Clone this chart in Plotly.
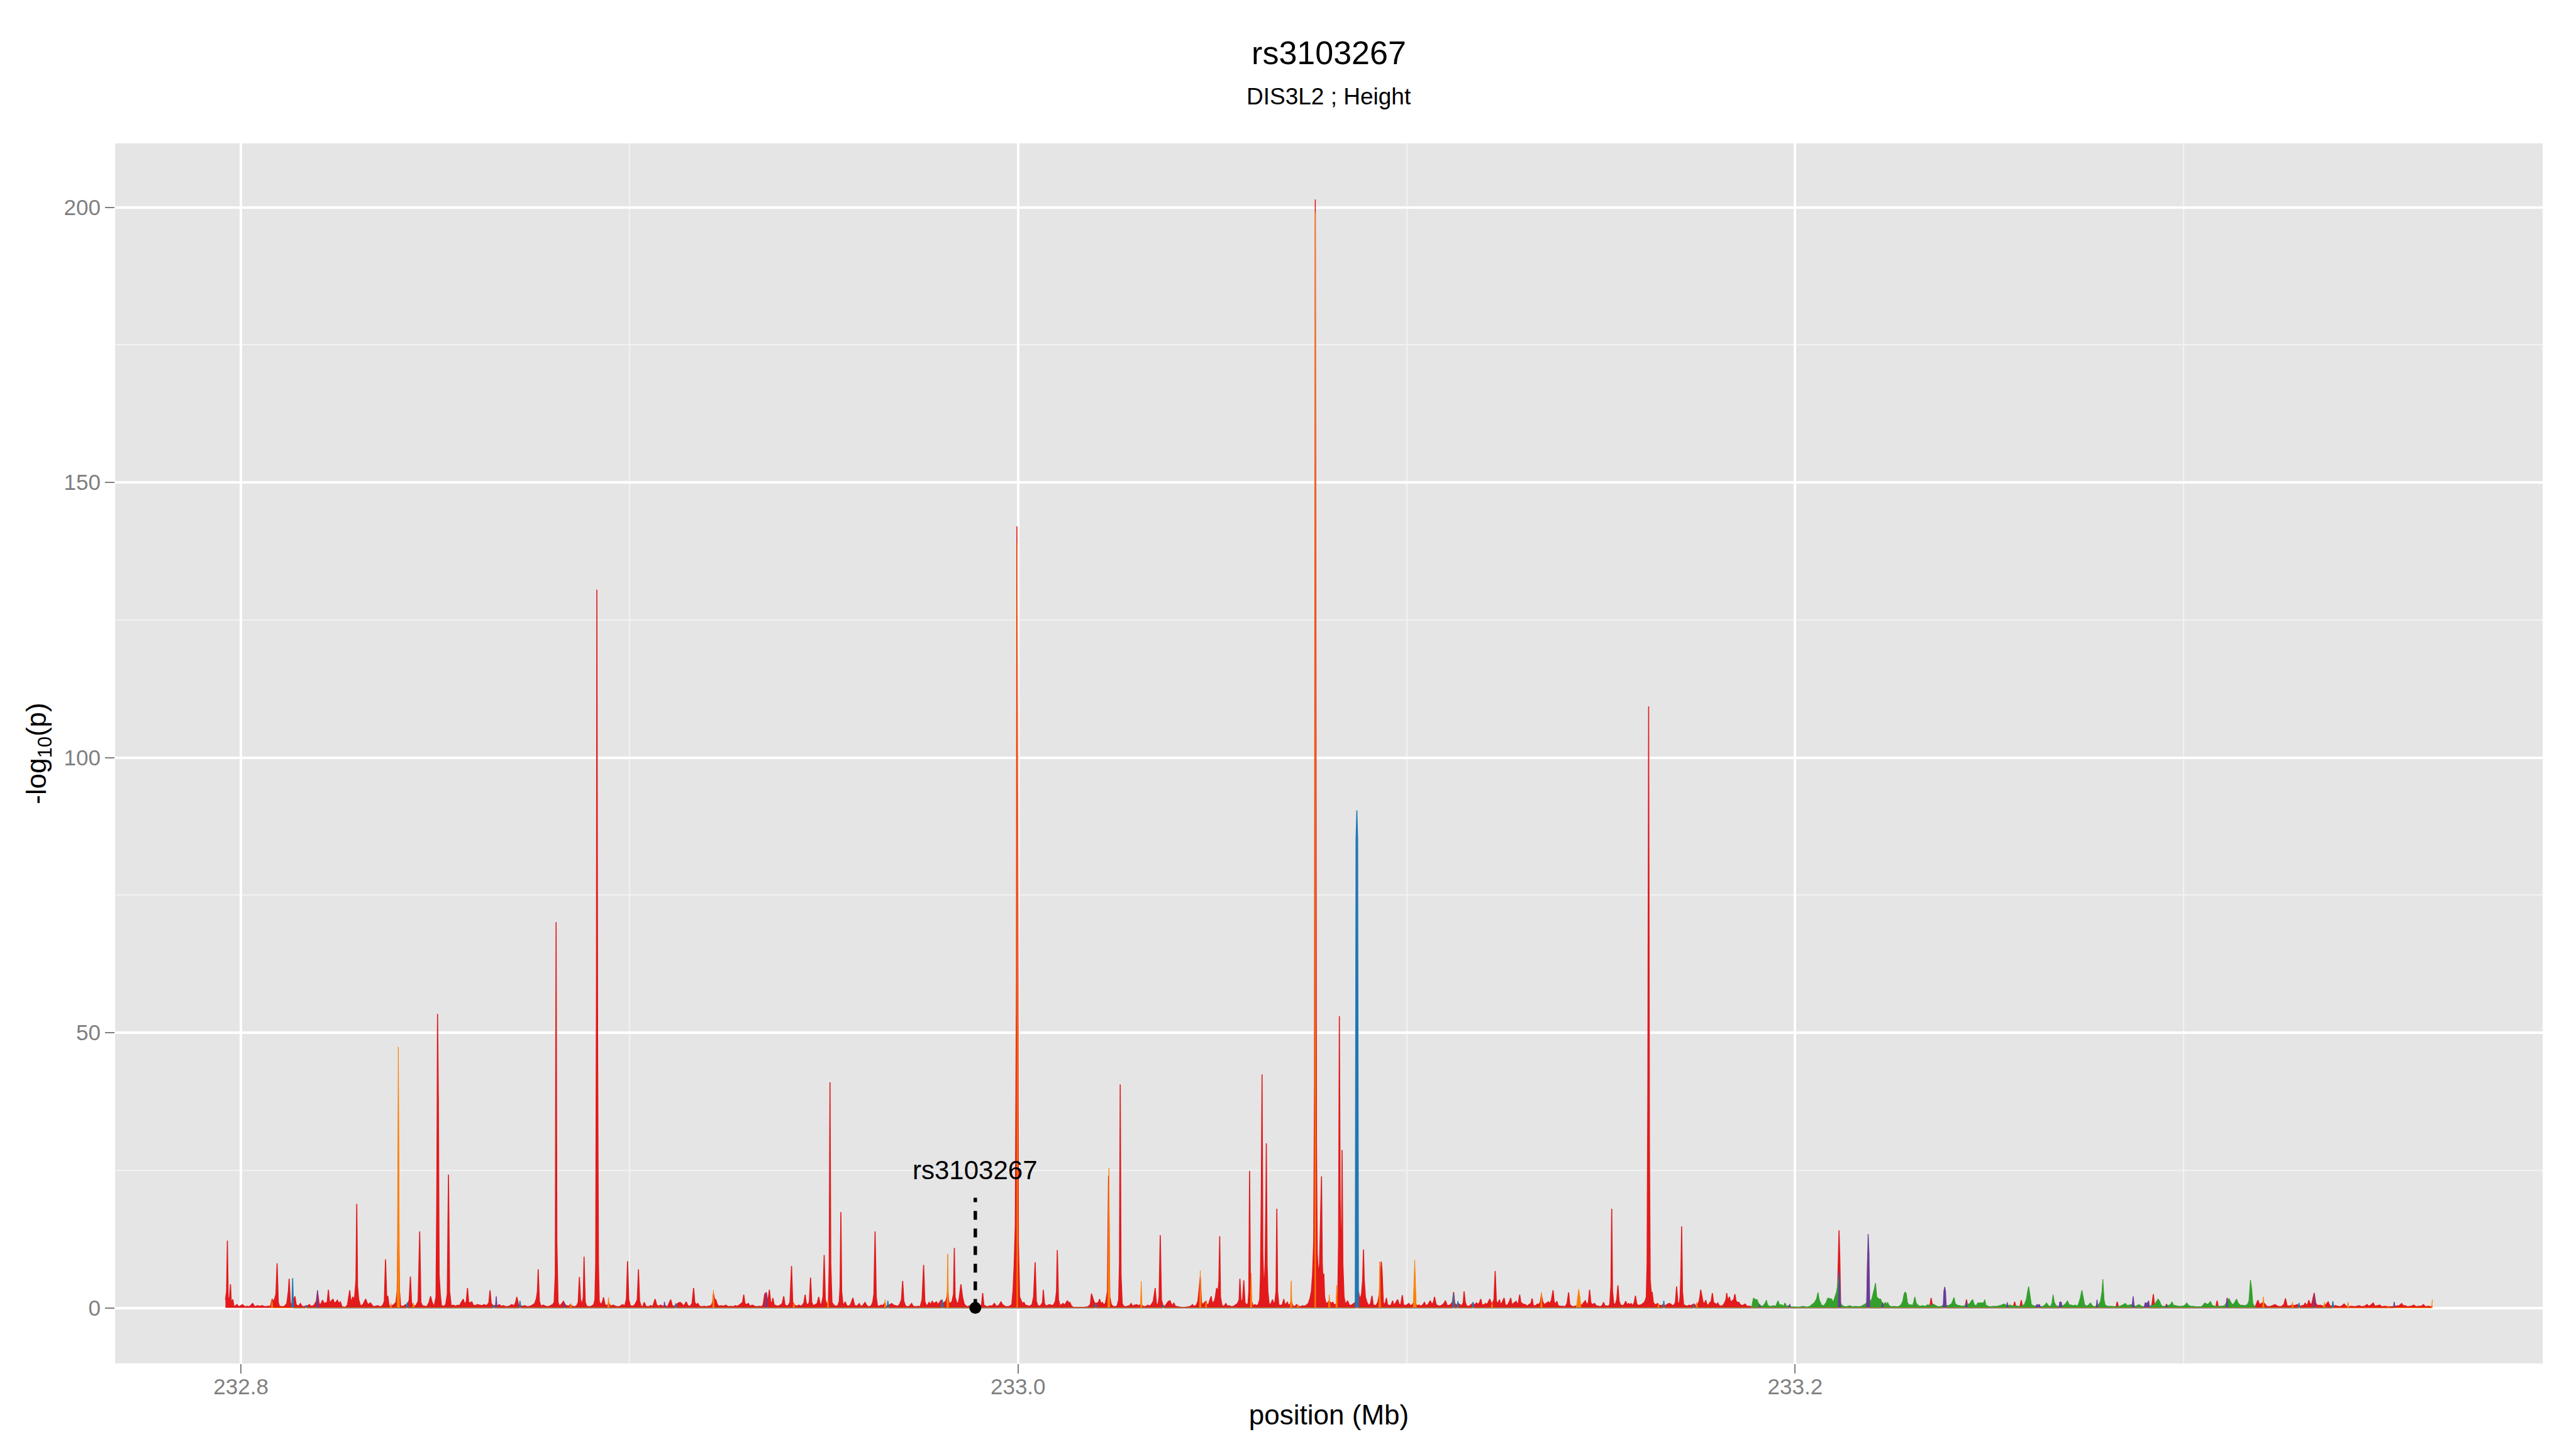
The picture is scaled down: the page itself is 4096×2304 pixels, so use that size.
import plotly.graph_objects as go

# ---------------- data (position in Mb, -log10 p) ----------------
red_pos = [
232.7960,232.7963,232.7965,232.7967,232.7970,232.7973,232.7975,232.7979,232.7982,232.7990,
232.7994,232.8000,232.8004,232.8010,232.8016,232.8022,232.8030,232.8036,232.8042,232.8048,
232.8055,232.8062,232.8068,232.8076,232.8080,232.8085,232.8090,232.8093,232.8096,232.8099,
232.8106,232.8112,232.8118,232.8122,232.8124,232.8127,232.8131,232.8135,232.8139,232.8142,
232.8148,232.8153,232.8158,232.8164,232.8170,232.8176,232.8180,232.8187,232.8194,232.8197,
232.8201,232.8205,232.8210,232.8214,232.8218,232.8222,232.8225,232.8228,232.8232,232.8237,
232.8240,232.8244,232.8248,232.8252,232.8256,232.8260,232.8268,232.8274,232.8280,232.8283,
232.8288,232.8292,232.8296,232.8298,232.8300,232.8303,232.8308,232.8314,232.8318,232.8321,
232.8324,232.8328,232.8333,232.8337,232.8341,232.8346,232.8352,232.8358,232.8362,232.8366,
232.8369,232.8372,232.8375,232.8378,232.8381,232.8386,232.8392,232.8399,232.8402,232.8405,
232.8408,232.8411,232.8418,232.8424,232.8428,232.8433,232.8436,232.8439,232.8443,232.8450,
232.8456,232.8460,232.8463,232.8467,232.8472,232.8478,232.8484,232.8488,232.8492,232.8497,
232.8502,232.8504,232.8506,232.8508,232.8510,232.8513,232.8516,232.8522,232.8527,232.8531,
232.8534,232.8537,232.8541,232.8547,232.8552,232.8557,232.8562,232.8567,232.8572,232.8576,
232.8580,232.8583,232.8586,232.8590,232.8594,232.8598,232.8603,232.8608,232.8614,232.8620,
232.8626,232.8632,232.8638,232.8641,232.8644,232.8650,232.8655,232.8660,232.8665,232.8670,
232.8676,232.8682,232.8690,232.8697,232.8703,232.8707,232.8710,232.8714,232.8719,232.8725,
232.8731,232.8737,232.8744,232.8750,232.8756,232.8760,232.8763,232.8765,232.8768,232.8772,
232.8778,232.8784,232.8790,232.8796,232.8802,232.8806,232.8809,232.8811,232.8813,232.8816,
232.8820,232.8826,232.8830,232.8834,232.8838,232.8843,232.8848,232.8853,232.8858,232.8864,
232.8868,232.8871,232.8874,232.8878,232.8881,232.8883,232.8886,232.8890,232.8896,232.8902,
232.8908,232.8911,232.8913,232.8915,232.8916,232.8918,232.8920,232.8922,232.8926,232.8930,
232.8933,232.8937,232.8942,232.8947,232.8952,232.8958,232.8964,232.8970,232.8976,232.8982,
232.8988,232.8992,232.8995,232.8998,232.9002,232.9008,232.9013,232.9017,232.9020,232.9023,
232.9026,232.9030,232.9034,232.9038,232.9042,232.9048,232.9054,232.9060,232.9066,232.9070,
232.9075,232.9080,232.9086,232.9092,232.9098,232.9106,232.9110,232.9116,232.9120,232.9126,
232.9130,232.9134,232.9138,232.9142,232.9146,232.9150,232.9156,232.9161,232.9165,232.9168,
232.9172,232.9176,232.9180,232.9186,232.9192,232.9198,232.9204,232.9210,232.9214,232.9216,
232.9219,232.9222,232.9226,232.9231,232.9236,232.9242,232.9248,232.9254,232.9260,232.9266,
232.9272,232.9278,232.9284,232.9288,232.9291,232.9294,232.9297,232.9301,232.9306,232.9310,
232.9316,232.9322,232.9328,232.9334,232.9340,232.9344,232.9348,232.9352,232.9356,232.9360,
232.9363,232.9366,232.9369,232.9372,232.9377,232.9382,232.9388,232.9393,232.9397,232.9400,
232.9405,232.9409,232.9413,232.9417,232.9420,232.9425,232.9430,232.9436,232.9441,232.9446,
232.9449,232.9452,232.9455,232.9460,232.9463,232.9466,232.9469,232.9473,232.9478,232.9483,
232.9487,232.9490,232.9494,232.9498,232.9501,232.9504,232.9508,232.9512,232.9514,232.9516,
232.9518,232.9521,232.9526,232.9531,232.9536,232.9540,232.9542,232.9544,232.9546,232.9549,
232.9552,232.9555,232.9559,232.9564,232.9569,232.9575,232.9579,232.9584,232.9588,232.9591,
232.9595,232.9600,232.9606,232.9611,232.9616,232.9622,232.9626,232.9629,232.9632,232.9635,
232.9638,232.9643,232.9648,232.9652,232.9656,232.9660,232.9665,232.9670,232.9675,232.9680,
232.9685,232.9690,232.9695,232.9700,232.9703,232.9706,232.9710,232.9715,232.9720,232.9726,
232.9730,232.9736,232.9742,232.9748,232.9753,232.9757,232.9760,232.9764,232.9768,232.9771,
232.9775,232.9779,232.9783,232.9787,232.9790,232.9794,232.9798,232.9802,232.9806,232.9810,
232.9814,232.9817,232.9819,232.9822,232.9826,232.9830,232.9834,232.9836,232.9838,232.9842,
232.9846,232.9849,232.9853,232.9857,232.9861,232.9865,232.9870,232.9876,232.9882,232.9886,
232.9890,232.9895,232.9900,232.9906,232.9909,232.9912,232.9917,232.9922,232.9928,232.9933,
232.9939,232.9944,232.9950,232.9956,232.9960,232.9966,232.9972,232.9978,232.9984,232.9987,
232.9990,232.9993,232.9996,232.9997,232.9999,233.0001,233.0004,233.0008,233.0011,233.0015,
233.0019,233.0024,233.0030,233.0036,233.0040,233.0044,233.0047,233.0051,233.0056,233.0060,
233.0063,233.0065,233.0068,233.0072,233.0077,233.0082,233.0087,233.0092,233.0096,233.0099,
233.0101,233.0104,233.0108,233.0112,233.0116,233.0120,233.0124,233.0127,233.0130,233.0133,
233.0137,233.0142,233.0150,233.0160,233.0170,233.0180,233.0186,233.0189,233.0192,233.0196,
233.0200,233.0204,233.0207,233.0210,233.0213,233.0217,233.0220,233.0225,233.0230,233.0233,
233.0236,233.0240,233.0244,233.0250,233.0255,233.0259,233.0261,233.0263,233.0265,233.0268,
233.0272,233.0277,233.0282,233.0287,233.0291,233.0295,233.0300,233.0305,233.0310,233.0315,
233.0320,233.0325,233.0330,233.0334,233.0338,233.0343,233.0348,233.0353,233.0356,233.0360,
233.0363,233.0366,233.0369,233.0373,233.0378,233.0383,233.0387,233.0391,233.0395,233.0398,
233.0401,233.0405,233.0412,233.0420,233.0430,233.0440,233.0446,233.0449,233.0452,233.0458,
233.0463,233.0466,233.0469,233.0472,233.0476,233.0480,233.0484,233.0487,233.0491,233.0494,
233.0497,233.0500,233.0505,233.0508,233.0511,233.0515,233.0517,233.0519,233.0521,233.0525,
233.0530,233.0535,233.0539,233.0544,233.0549,233.0555,233.0560,233.0565,233.0569,233.0571,
233.0574,233.0578,233.0581,233.0584,233.0588,233.0592,233.0594,233.0596,233.0598,233.0601,
233.0605,233.0610,233.0614,233.0618,233.0622,233.0624,233.0626,233.0628,233.0630,233.0632,
233.0634,233.0636,233.0638,233.0639,233.0641,233.0643,233.0646,233.0650,233.0655,233.0658,
233.0661,233.0664,233.0666,233.0668,233.0671,233.0675,233.0680,233.0684,233.0687,233.0691,
233.0693,233.0696,233.0700,233.0703,233.0707,233.0712,233.0717,233.0722,233.0727,233.0732,
233.0737,233.0742,233.0747,233.0751,233.0755,233.0758,233.0761,233.0763,233.0764,233.0765,
233.0766,233.0768,233.0770,233.0773,233.0776,233.0779,233.0781,233.0783,233.0785,233.0787,
233.0789,233.0792,233.0796,233.0800,233.0804,233.0808,233.0810,233.0813,233.0817,233.0820,
233.0823,233.0825,233.0827,233.0829,233.0831,233.0833,233.0834,233.0836,233.0839,233.0843,
233.0848,233.0852,233.0856,233.0860,233.0864,233.0868,233.0872,233.0876,233.0880,233.0884,
233.0887,233.0889,233.0891,233.0894,233.0898,233.0903,233.0907,233.0911,233.0914,233.0918,
233.0922,233.0926,233.0930,233.0933,233.0935,233.0937,233.0940,233.0944,233.0948,233.0951,
233.0955,233.0960,233.0964,233.0967,233.0971,233.0977,233.0981,233.0985,233.0989,233.0992,
233.0996,233.1000,233.1006,233.1010,233.1015,233.1020,233.1024,233.1028,233.1032,233.1037,
233.1042,233.1046,233.1050,233.1055,233.1061,233.1065,233.1069,233.1072,233.1076,233.1081,
233.1086,233.1091,233.1096,233.1100,233.1104,233.1108,233.1113,233.1118,233.1121,233.1124,
233.1128,233.1133,233.1138,233.1142,233.1146,233.1148,233.1151,233.1155,233.1161,233.1166,
233.1170,233.1174,233.1177,233.1180,233.1184,233.1188,233.1191,233.1194,233.1198,233.1203,
233.1206,233.1210,233.1214,233.1217,233.1221,233.1225,233.1228,233.1231,233.1235,233.1239,
233.1242,233.1246,233.1251,233.1254,233.1258,233.1262,233.1265,233.1268,233.1271,233.1275,
233.1279,233.1282,233.1285,233.1288,233.1291,233.1294,233.1298,233.1302,233.1306,233.1310,
233.1315,233.1320,233.1323,233.1326,233.1330,233.1334,233.1337,233.1340,233.1344,233.1347,
233.1350,233.1354,233.1358,233.1362,233.1365,233.1369,233.1373,233.1377,233.1380,233.1384,
233.1387,233.1390,233.1396,233.1402,233.1408,233.1413,233.1417,233.1420,233.1425,233.1429,
233.1434,233.1439,233.1443,233.1447,233.1452,233.1456,233.1460,233.1464,233.1468,233.1471,
233.1474,233.1478,233.1484,233.1488,233.1494,233.1499,233.1504,233.1507,233.1510,233.1515,
233.1519,233.1523,233.1526,233.1528,233.1530,233.1533,233.1537,233.1541,233.1544,233.1547,
233.1551,233.1556,233.1560,233.1564,233.1567,233.1571,233.1575,233.1578,233.1582,233.1586,
233.1589,233.1592,233.1596,233.1600,233.1605,233.1608,233.1612,233.1615,233.1617,233.1619,
233.1621,233.1623,233.1625,233.1627,233.1630,233.1632,233.1635,233.1639,233.1642,233.1646,
233.1650,233.1655,233.1660,233.1665,233.1670,233.1675,233.1680,233.1684,233.1688,233.1692,
233.1695,233.1698,233.1702,233.1704,233.1706,233.1708,233.1710,233.1713,233.1718,233.1722,
233.1727,233.1732,233.1736,233.1740,233.1744,233.1748,233.1752,233.1755,233.1757,233.1760,
233.1763,233.1767,233.1770,233.1773,233.1777,233.1781,233.1784,233.1787,233.1790,233.1794,
233.1798,233.1801,233.1805,233.1810,233.1815,233.1819,233.1822,233.1824,233.1827,233.1831,
233.1834,233.1838,233.1842,233.1845,233.1848,233.1852,233.1855,233.1859,233.1864,233.1871,
233.1876,233.1882,233.1890,233.1905,233.1909,233.1913,233.1930,233.1950,233.1970,233.1990,
233.2010,233.2030,233.2050,233.2070,233.2090,233.2105,233.2109,233.2111,233.2113,233.2115,
233.2117,233.2120,233.2140,233.2160,233.2180,233.2185,233.2187,233.2189,233.2192,233.2200,
233.2222,233.2225,233.2228,233.2250,233.2280,233.2310,233.2340,233.2347,233.2350,233.2353,
233.2358,233.2400,233.2430,233.2438,233.2441,233.2444,233.2460,233.2500,233.2540,233.2562,
233.2565,233.2568,233.2579,233.2582,233.2585,233.2620,233.2660,233.2700,233.2740,233.2780,
233.2826,233.2829,233.2832,233.2860,233.2900,233.2918,233.2922,233.2925,233.2940,233.2953,
233.2956,233.2959,233.3000,233.3040,233.3083,233.3086,233.3089,233.3109,233.3112,233.3115,
233.3150,233.3185,233.3191,233.3195,233.3200,233.3205,233.3210,233.3215,233.3225,233.3235,
233.3242,233.3250,233.3258,233.3262,233.3266,233.3272,233.3278,233.3285,233.3292,233.3300,
233.3305,233.3310,233.3313,233.3316,233.3320,233.3322,233.3326,233.3330,233.3333,233.3336,
233.3340,233.3345,233.3352,233.3358,233.3365,233.3372,233.3376,233.3382,233.3390,233.3396,
233.3402,233.3408,233.3413,233.3418,233.3425,233.3432,233.3440,233.3446,233.3452,233.3458,
233.3466,233.3472,233.3476,233.3480,233.3488,233.3492,233.3500,233.3505,233.3510,233.3518,
233.3525,233.3535,233.3545,233.3555,233.3561,233.3565,233.3570,233.3576,233.3585,233.3593,
233.3598,233.3605,233.3612,233.3617,233.3622,233.3630,233.3637,233.3640,
]
red_val = [
1.5,3.0,12.2,2.0,1.2,4.3,1.0,1.5,0.2,0.6,
0.2,0.5,0.6,0.2,0.3,0.2,0.8,0.2,0.4,0.3,
0.4,0.2,0.3,0.3,1.6,1.2,2.5,8.1,1.0,0.3,
0.2,0.3,0.8,3.0,5.3,1.0,0.5,1.3,2.1,0.6,
0.3,0.8,0.2,0.3,0.3,0.6,0.3,0.4,1.2,3.0,
0.8,0.6,1.4,0.8,0.9,1.0,3.3,0.9,1.2,1.6,
0.9,1.0,1.4,0.8,1.1,0.2,0.1,0.5,3.2,1.0,
2.0,1.5,5.0,18.9,4.0,1.5,0.3,0.6,1.2,1.6,
1.0,0.6,0.9,0.6,0.2,0.3,0.4,0.2,0.3,0.6,
1.2,8.8,2.0,2.1,0.4,0.3,0.5,1.0,3.0,17.2,
3.0,0.3,0.3,0.6,0.3,1.5,5.7,1.0,0.3,0.4,
1.2,13.9,1.0,0.4,0.3,0.2,1.0,2.1,1.0,0.2,
2.0,20.0,53.4,37.6,6.0,2.4,0.4,0.3,0.6,2.5,
24.2,3.0,0.4,0.5,0.3,0.5,0.4,1.0,1.6,0.6,
1.2,3.6,1.0,0.9,1.1,0.5,0.4,0.6,0.5,0.4,
0.6,0.4,0.9,3.2,0.8,0.3,0.5,0.4,0.6,0.3,
0.4,0.2,0.3,0.6,0.4,1.0,2.0,0.6,0.4,0.3,
0.4,0.2,0.3,0.5,0.8,1.6,3.0,7.0,1.2,0.3,
0.5,0.3,0.2,0.4,0.6,1.0,6.0,70.1,12.0,1.0,
0.3,0.8,1.2,0.6,0.4,0.3,0.6,0.3,0.2,0.4,
1.0,5.6,1.5,0.6,2.0,9.3,1.0,0.3,0.2,0.3,
0.6,1.5,8.0,60.0,130.5,45.0,8.0,1.2,0.6,1.0,
1.9,0.6,0.4,0.8,0.3,0.5,0.3,0.2,0.3,0.6,
0.4,1.6,8.5,1.5,0.4,0.3,0.5,1.0,1.5,7.0,
1.2,0.3,0.2,1.0,0.3,0.2,0.4,0.3,1.6,0.5,
0.3,0.5,0.3,0.4,0.2,1.5,0.4,0.3,0.6,0.9,
1.0,0.8,0.4,0.6,1.1,0.4,0.3,0.8,3.6,1.0,
0.6,0.8,0.3,0.2,0.3,0.2,0.3,0.4,1.0,2.6,
1.6,1.5,0.6,0.3,0.4,0.3,0.5,0.2,0.3,0.2,
0.4,0.3,0.6,0.8,1.0,2.4,0.8,0.6,0.8,0.3,
0.5,0.3,0.2,0.3,0.2,0.6,2.5,2.8,1.0,3.3,
1.2,0.6,1.8,0.6,0.4,0.3,0.5,0.8,2.1,0.6,
0.3,0.5,1.0,7.6,1.0,0.5,0.3,0.5,0.3,0.6,
1.0,2.4,0.8,0.5,1.2,5.5,1.0,0.4,0.6,0.8,
2.0,0.8,0.6,2.0,9.6,1.5,0.6,1.0,8.0,41.0,
8.0,1.0,0.5,0.3,0.4,1.2,4.0,17.4,3.0,0.8,
0.6,1.1,0.4,0.3,0.6,1.8,0.5,0.3,0.5,0.8,
0.3,0.4,1.0,0.4,0.2,0.4,1.0,2.5,13.9,2.0,
0.4,0.3,0.5,0.4,0.8,0.3,0.4,0.6,0.8,0.5,
0.4,0.3,0.6,1.5,4.9,1.2,0.4,0.2,0.3,0.8,
0.3,0.2,0.3,0.2,1.5,7.8,1.2,0.4,0.6,1.0,
0.6,1.2,0.8,1.0,1.1,0.6,1.0,1.4,0.8,1.0,
1.2,2.0,3.0,1.0,0.8,1.2,2.5,10.9,2.0,1.0,
0.8,2.0,4.3,2.0,0.8,0.4,0.2,0.4,0.3,0.6,
0.1,0.2,0.3,0.5,2.7,0.5,0.3,0.2,0.4,0.3,
0.8,0.3,0.4,1.1,0.6,0.3,0.2,0.3,0.6,3.0,
7.8,15.0,60.0,142.0,90.0,12.0,2.0,1.2,0.8,1.0,
0.5,0.4,0.3,0.6,2.0,8.3,1.2,0.4,0.3,0.6,
1.0,3.3,0.8,0.3,0.5,0.6,0.4,0.6,1.2,3.0,
10.5,1.5,0.4,0.6,0.8,0.5,1.0,1.3,0.9,1.0,
0.4,0.1,0.1,0.1,0.1,0.2,0.6,2.6,2.0,1.0,
0.8,0.9,1.0,1.6,0.8,1.0,0.6,0.8,3.0,24.0,
2.0,0.6,0.3,0.2,0.4,1.5,8.0,40.6,6.0,0.8,
0.3,0.2,0.3,0.4,0.8,0.3,0.5,0.6,0.4,0.6,
0.4,0.2,0.3,0.5,0.3,0.6,1.2,3.6,0.8,0.5,
2.0,13.2,1.5,0.4,0.3,0.8,1.2,1.3,0.6,0.5,
0.9,0.3,0.2,0.1,0.1,0.2,0.4,0.6,0.3,0.4,
1.2,3.0,5.5,1.0,0.6,1.0,1.2,0.4,0.8,1.5,
2.1,0.8,1.2,2.0,3.6,3.0,5.0,13.0,2.0,0.4,
0.3,0.8,0.3,0.4,0.2,0.3,0.6,0.8,1.5,5.3,
1.0,1.5,5.0,1.0,0.5,0.8,3.0,24.9,4.0,1.2,
0.4,0.6,0.4,0.6,1.5,6.0,20.0,42.4,10.0,5.0,
4.5,8.0,20.0,29.9,8.0,3.0,0.8,0.6,1.5,0.8,
1.0,3.0,18.0,3.0,0.6,0.4,0.6,1.6,0.6,0.8,
1.1,0.5,0.6,1.2,0.4,0.2,0.6,0.3,0.2,0.4,
0.3,0.5,0.8,1.6,3.0,6.0,12.0,40.0,120.0,201.4,
150.0,30.0,10.0,6.0,8.0,16.0,23.9,8.0,5.0,6.2,
2.0,1.0,0.8,1.2,1.0,0.8,1.1,0.6,0.6,0.8,
2.5,12.0,53.0,20.0,10.0,15.0,28.7,8.0,2.0,0.6,
1.3,0.6,0.4,0.6,0.8,1.0,2.0,3.0,1.5,2.5,
5.0,10.6,5.0,2.0,1.0,0.4,0.8,2.2,0.6,0.4,
0.5,1.0,2.5,6.0,8.4,6.5,1.0,0.5,1.8,0.6,
0.4,0.5,1.3,0.5,0.8,1.5,0.6,0.6,2.3,0.6,
0.4,0.5,0.8,0.4,0.6,1.2,0.6,0.4,0.5,0.3,
0.6,1.0,0.4,0.6,1.3,0.6,1.0,2.0,0.6,0.4,
0.3,0.5,0.8,1.3,0.5,0.4,0.6,1.0,2.9,0.8,
0.5,0.8,0.6,0.4,1.0,3.0,1.0,0.3,0.3,0.6,
0.8,0.6,0.7,0.9,0.6,1.0,1.6,0.6,0.5,0.8,
0.6,1.0,1.6,1.0,0.8,1.5,6.7,1.2,0.8,1.5,
0.6,1.0,1.8,0.6,0.4,0.8,1.2,1.8,0.6,0.8,
1.0,1.2,0.6,1.0,2.4,1.0,0.8,0.6,0.6,0.3,
0.6,0.8,1.7,0.5,0.3,0.6,0.7,0.6,1.0,2.4,
1.2,0.6,0.8,1.0,1.1,0.8,1.5,3.2,1.0,0.8,
1.2,0.4,0.3,0.3,0.2,0.8,2.8,0.6,0.3,0.2,
0.3,0.4,0.6,0.4,0.6,1.0,1.3,0.6,1.0,3.3,
1.0,0.6,0.8,0.4,0.3,0.2,0.5,1.0,0.4,0.3,
0.3,0.6,4.0,18.0,3.0,0.8,0.6,1.5,4.1,1.2,
0.5,0.4,0.6,1.2,0.6,0.8,0.6,0.8,0.4,1.0,
2.2,0.8,0.4,0.5,0.6,0.8,1.0,1.5,2.0,8.0,
40.0,109.3,30.0,5.0,2.5,2.9,1.0,0.6,0.6,0.8,
0.5,0.4,0.6,0.4,0.6,0.8,0.7,0.4,0.5,1.0,
3.9,1.0,0.8,2.0,6.0,14.8,3.0,0.6,0.4,0.3,
0.5,0.4,0.6,0.7,0.4,0.5,1.0,2.0,3.3,2.0,
1.0,0.8,1.4,0.6,0.5,1.0,1.2,2.7,1.0,0.8,
0.6,0.9,0.4,0.3,0.5,1.0,1.5,2.7,1.2,2.0,
1.0,1.3,1.5,2.5,1.2,1.0,1.0,0.6,0.4,0.7,
0.3,0.3,0.2,0.1,0.5,0.1,0.1,0.1,0.1,0.1,
0.1,0.1,0.1,0.1,0.2,0.3,2.0,8.0,14.1,9.0,
0.8,0.2,0.1,0.1,0.2,1.0,10.0,4.0,0.2,0.2,
0.2,0.9,0.2,0.1,0.1,0.1,0.1,0.4,1.8,0.5,
0.1,0.1,0.1,0.3,1.5,0.3,0.1,0.1,0.1,0.3,
1.1,0.2,0.3,1.4,0.2,0.1,0.1,0.1,0.1,0.1,
0.2,1.1,0.2,0.1,0.1,0.4,2.5,0.4,0.1,0.2,
0.7,0.2,0.1,0.1,0.2,1.3,0.2,0.3,1.8,0.3,
0.1,0.3,1.4,0.6,0.8,1.0,0.6,0.2,0.3,0.6,
0.3,0.2,0.6,1.7,0.4,0.3,0.5,0.4,0.6,0.3,
0.4,0.5,0.9,0.4,0.8,1.4,0.6,0.8,1.8,2.7,
0.8,0.4,0.5,0.3,0.5,1.1,0.4,0.3,0.4,0.3,
0.2,0.4,0.7,0.3,0.2,0.3,0.2,0.3,0.4,0.2,
0.3,0.6,0.3,0.4,0.9,0.3,0.4,0.5,0.2,0.3,
0.2,0.2,0.3,0.4,0.8,0.4,0.4,0.2,0.3,0.5,
0.2,0.3,0.3,0.6,0.2,0.3,0.2,0.3,
]

green_pos = [
233.1886,233.1889,233.1891,233.1893,233.1896,233.1899,233.1902,233.1906,233.1912,233.1918,
233.1923,233.1926,233.1929,233.1933,233.1938,233.1944,233.1950,233.1953,233.1956,233.1960,
233.1965,233.1970,233.1974,233.1978,233.1983,233.1990,233.2000,233.2010,233.2021,233.2030,
233.2038,233.2044,233.2050,233.2055,233.2059,233.2062,233.2068,233.2074,233.2080,233.2083,
233.2085,233.2089,233.2094,233.2098,233.2102,233.2105,233.2107,233.2110,233.2113,233.2116,
233.2119,233.2125,233.2132,233.2140,233.2148,233.2156,233.2163,233.2170,233.2178,233.2186,
233.2193,233.2197,233.2201,233.2204,233.2207,233.2210,233.2213,233.2216,233.2220,233.2224,
233.2228,233.2232,233.2235,233.2238,233.2242,233.2248,233.2255,233.2262,233.2268,233.2273,
233.2277,233.2280,233.2283,233.2286,233.2289,233.2293,233.2298,233.2302,233.2305,233.2308,
233.2312,233.2316,233.2321,233.2328,233.2335,233.2342,233.2348,233.2355,233.2362,233.2369,
233.2376,233.2383,233.2390,233.2397,233.2403,233.2406,233.2409,233.2412,233.2417,233.2424,
233.2430,233.2436,233.2450,233.2454,233.2457,233.2460,233.2465,233.2470,233.2475,233.2479,
233.2483,233.2486,233.2488,233.2491,233.2496,233.2500,233.2510,233.2520,233.2530,233.2538,
233.2545,233.2554,233.2562,233.2570,233.2574,233.2582,233.2590,233.2595,233.2598,233.2601,
233.2604,233.2608,233.2613,233.2620,233.2630,233.2638,233.2644,233.2647,233.2652,233.2657,
233.2661,233.2664,233.2667,233.2671,233.2674,233.2683,233.2692,233.2698,233.2701,233.2705,
233.2711,233.2716,233.2721,233.2726,233.2730,233.2734,233.2738,233.2741,233.2745,233.2750,
233.2755,233.2760,233.2765,233.2770,233.2778,233.2783,233.2786,233.2790,233.2792,233.2795,
233.2798,233.2805,233.2815,233.2825,233.2835,233.2842,233.2846,233.2850,233.2855,233.2860,
233.2864,233.2870,233.2876,233.2885,233.2892,233.2900,233.2910,233.2920,233.2927,233.2931,
233.2934,233.2938,233.2942,233.2946,233.2952,233.2960,233.2966,233.2970,233.2974,233.2980,
233.2987,233.2995,233.3002,233.3008,233.3012,233.3018,233.3025,233.3032,233.3039,233.3045,
233.3050,233.3053,233.3056,233.3060,233.3065,233.3069,233.3073,233.3080,233.3088,233.3098,
233.3105,233.3110,233.3114,233.3117,233.3120,233.3125,233.3130,233.3133,233.3136,233.3140,
233.3145,233.3151,233.3158,233.3164,233.3168,233.3170,233.3172,233.3175,233.3178,233.3182,
233.3186,
]
green_val = [
0.0,0.3,1.2,1.8,1.6,1.5,1.5,0.8,0.3,0.4,
0.9,1.4,0.6,0.3,0.3,0.4,0.3,0.8,1.3,0.5,
0.6,0.3,0.9,0.3,0.4,0.2,0.15,0.15,0.3,0.15,
0.3,0.6,1.0,1.6,2.8,1.5,0.5,0.4,1.0,1.6,
1.8,1.7,1.6,1.0,1.8,2.4,3.0,4.5,6.0,1.0,
0.6,0.3,0.2,0.4,0.2,0.3,0.2,0.3,0.6,1.0,
1.2,1.5,2.5,3.5,4.5,2.0,1.8,1.6,1.6,0.8,
0.6,1.0,0.6,1.0,0.4,0.2,0.3,0.2,0.3,0.6,
1.2,2.4,2.9,2.6,1.0,0.5,0.6,0.4,1.0,2.0,
0.8,0.5,0.3,0.4,0.3,0.6,0.3,0.7,0.4,0.2,
0.3,0.6,0.4,0.5,0.8,1.4,1.9,0.8,0.5,0.4,
0.3,0.4,0.8,1.3,1.5,0.8,0.3,0.9,0.9,0.9,
0.9,1.0,1.5,0.5,0.3,0.2,0.3,0.3,0.5,0.7,
0.4,0.5,0.3,0.4,0.2,0.3,0.6,1.5,2.8,3.9,
2.5,0.6,0.4,0.3,0.2,0.3,0.6,0.9,0.4,0.2,
0.8,2.4,1.0,0.5,0.3,0.3,0.5,0.9,1.3,0.6,
0.5,0.4,0.5,0.3,0.8,1.8,3.2,2.0,0.6,0.3,
0.5,0.9,0.4,0.2,0.4,0.8,1.2,3.0,5.2,1.5,
0.5,0.3,0.3,0.2,0.3,0.5,0.7,0.8,0.4,0.5,
0.6,0.4,0.3,0.6,0.3,0.2,0.3,0.4,0.8,1.3,
1.6,1.2,0.5,0.3,0.3,0.4,0.6,1.1,0.5,0.4,
0.3,0.3,0.4,0.9,0.5,0.3,0.3,0.2,0.2,0.2,
0.5,0.8,0.9,0.6,0.8,1.2,0.5,0.3,0.3,0.3,
0.4,0.9,1.4,1.7,1.2,0.6,0.8,1.3,1.6,0.9,
0.5,0.5,0.4,0.6,1.2,3.0,5.1,3.5,0.8,0.3,
0.0,
]

purple_pos = [
232.8195,232.8197,232.8199, 232.8655,232.8657,232.8659, 232.8830,232.8832,232.8834,
232.9088,232.9090,232.9092, 232.9350,232.9352,232.9354, 233.1907,233.1909,233.1911,
233.1984,233.1986,233.1988, 233.2111,233.2114,233.2117,
233.2184,233.2186,233.2188,233.2190,233.2192, 233.2223,233.2225,233.2227,
233.2381,233.2383,233.2385,233.2387,233.2389, 233.2439,233.2441,233.2443,
233.2544,233.2546,233.2548, 233.2619,233.2622,233.2626,233.2629,233.2632,
233.2679,233.2681,233.2683,233.2685,233.2687, 233.2775,233.2777,233.2779,
233.2867,233.2870,233.2873, 233.2898,233.2901,233.2906,233.2910,233.2912,
233.2954,233.2956,233.2958, 233.3110,233.3112,233.3114, 233.3334,233.3336,233.3338,
233.3540,233.3542,233.3544,
]
purple_val = [
0.0,3.2,0.0, 0.0,2.1,0.0, 0.0,1.0,0.0,
0.0,1.1,0.0, 0.0,2.8,0.0, 0.0,0.6,0.0,
0.0,0.7,0.0, 0.0,6.7,0.0,
0.0,6.0,13.4,10.0,0.0, 0.0,1.0,0.0,
0.0,3.0,3.8,3.0,0.0, 0.0,1.2,0.0,
0.0,1.0,0.0, 0.0,0.6,0.5,0.6,0.0,
0.0,1.0,1.1,1.0,0.0, 0.0,1.5,0.0,
0.0,2.1,0.0, 0.0,0.9,0.8,1.3,0.0,
0.0,0.6,0.0, 0.0,1.8,0.0, 0.0,2.4,0.0,
0.0,1.1,0.0,
]

blue_pos = [
232.8131,232.8133,232.8135, 232.8166,232.8168,232.8170, 232.8426,232.8428,232.8430,
232.8648,232.8650,232.8652, 232.8716,232.8718,232.8720, 232.9117,232.9119,232.9121,
232.9663,232.9665,232.9667, 232.9803,232.9805,232.9807, 233.0198,233.0200,233.0202,
233.0372,233.0374,233.0376,
233.0868,233.0869,233.0870,233.0872,233.0874,233.0875,233.0876,
233.1119,233.1121,233.1123, 233.1130,233.1132,233.1134, 233.1169,233.1171,233.1173,
233.1660,233.1662,233.1664, 233.1737,233.1739,233.1741, 233.3295,233.3297,233.3299,
233.3382,233.3384,233.3386,
]
blue_val = [
0.0,5.4,0.0, 0.0,0.5,0.0, 0.0,1.0,0.0,
0.0,0.5,0.0, 0.0,1.3,0.0, 0.0,0.8,0.0,
0.0,1.3,0.0, 0.0,1.5,0.0, 0.0,0.8,0.0,
0.0,0.5,0.0,
0.0,40.0,85.0,90.4,85.0,40.0,0.0,
0.0,2.6,0.0, 0.0,1.2,0.0, 0.0,1.1,0.0,
0.0,1.3,0.0, 0.0,0.6,0.0, 0.0,0.9,0.0,
0.0,1.2,0.0,
]

orange_pos = [
232.8078,232.8080,232.8082, 232.8384,232.8386,232.8388,
232.8402,232.8404,232.8405,232.8406,232.8408, 232.8442,232.8444,232.8446,
232.8847,232.8849,232.8851, 232.8944,232.8946,232.8948, 232.9214,232.9216,232.9218,
232.9421,232.9423,232.9425, 232.9509,232.9511,232.9513, 232.9656,232.9658,232.9660,
232.9817,232.9819,232.9821, 232.9997,232.9998,232.9999,
233.0231,233.0233,233.0234,233.0236, 233.0315,233.0317,233.0319,
233.0467,233.0469,233.0471, 233.0482,233.0484,233.0486, 233.0598,233.0600,233.0602,
233.0701,233.0703,233.0705, 233.0718,233.0720,233.0722, 233.0764,233.0765,233.0766,
233.0799,233.0801,233.0803, 233.0818,233.0820,233.0822, 233.0929,233.0931,233.0933,
233.1017,233.1019,233.1021,233.1023,233.1025, 233.1218,233.1220,233.1222,
233.1345,233.1347,233.1349, 233.1437,233.1441,233.1443,233.1446,233.1449,
233.1646,233.1648,233.1650, 233.1745,233.1747,233.1749,
233.3203,233.3205,233.3207, 233.3278,233.3280,233.3282, 233.3360,233.3362,233.3364,
233.3421,233.3423,233.3425, 233.3525,233.3527,233.3529, 233.3638,233.3640,
]
orange_val = [
0.0,1.5,0.0, 0.0,0.8,0.0,
0.0,30.0,47.4,35.0,0.0, 0.0,0.9,0.0,
0.0,0.8,0.0, 0.0,1.9,0.0, 0.0,3.2,0.0,
0.0,1.0,0.0, 0.0,1.5,0.0, 0.0,1.5,0.0,
0.0,9.8,0.0, 0.0,139.0,0.0,
0.0,20.0,25.4,0.0, 0.0,4.8,0.0,
0.0,6.8,0.0, 0.0,1.3,0.0, 0.0,6.3,0.0,
0.0,4.9,0.0, 0.0,0.6,0.0, 0.0,199.0,0.0,
0.0,2.4,0.0, 0.0,4.1,0.0, 0.0,8.4,0.0,
0.0,4.0,8.7,4.0,0.0, 0.0,1.0,0.0,
0.0,2.8,0.0, 0.0,2.0,3.4,2.0,0.0,
0.0,0.8,0.0, 0.0,1.0,0.0,
0.0,2.0,0.0, 0.0,1.0,0.0, 0.0,1.0,0.0,
0.0,1.1,0.0, 0.0,0.4,0.0, 0.0,1.5,
]

index_snp = "rs3103267"
index_pos = 232.9890
index_val = 0.0
gene_trait = "DIS3L2 ; Height"

x_ticks = [232.8, 233.0, 233.2]
x_tick_labels = ["232.8", "233.0", "233.2"]
x_minor = [232.9, 233.1, 233.3]
y_ticks = [0, 50, 100, 150, 200]
y_minor = [25, 75, 125, 175]

# ---------------- styling ----------------
FONT = "Liberation Sans, Arial, Helvetica, sans-serif"
W, H = 4096, 2304
ML, MR, MT, MB = 183, 53, 228, 136


def split_at_zeros(xs, ys):
    """Split a sparse series into runs bounded by its zero-valued points."""
    segs, cur_x, cur_y = [], [], []
    for x, y in zip(xs, ys):
        cur_x.append(x)
        cur_y.append(y)
        if y == 0 and len(cur_x) > 1:
            segs.append((cur_x, cur_y))
            cur_x, cur_y = [x], [y]
    if len(cur_x) > 1:
        segs.append((cur_x, cur_y))
    return segs


# (name, x, y, colour, line width, split into separate spikes)
groups = [
    ("red", red_pos, red_val, "#E31A1C", 1.6, False),
    ("green", green_pos, green_val, "#33A02C", 1.2, False),
    ("purple", purple_pos, purple_val, "#6A3D9A", 1.4, True),
    ("blue", blue_pos, blue_val, "#1F78B4", 1.6, True),
    ("orange", orange_pos, orange_val, "#FF7F00", 1.0, True),
]

fig = go.Figure()
for name, xs, ys, col, lw, split in groups:
    assert len(xs) == len(ys), name
    segs = split_at_zeros(xs, ys) if split else [(xs, ys)]
    for sx, sy in segs:
        fig.add_trace(go.Scatter(
            x=sx, y=sy, mode="lines", fill="tozeroy", fillcolor=col,
            line=dict(color=col, width=lw), name=name,
            hoverinfo="skip", showlegend=False))

LINE_TOP = 20
LABEL_Y = 25
fig.add_trace(go.Scatter(
    x=[index_pos, index_pos], y=[index_val, LINE_TOP], mode="lines",
    line=dict(color="black", width=5.5, dash="14px,14px"),
    hoverinfo="skip", showlegend=False))
fig.add_trace(go.Scatter(
    x=[index_pos], y=[index_val], mode="markers",
    marker=dict(color="black", size=19, line=dict(width=0)),
    hoverinfo="skip", showlegend=False))

fig.add_annotation(x=index_pos, y=LABEL_Y, xref="x", yref="y", text=index_snp,
                   showarrow=False, xanchor="center", yanchor="middle",
                   font=dict(family=FONT, size=42, color="black"))

plot_h = H - MT - MB
fig.add_annotation(x=0.5, y=1 + (MT - 154) / plot_h, xref="paper", yref="paper",
                   text=gene_trait, showarrow=False, xanchor="center", yanchor="middle",
                   font=dict(family=FONT, size=37, color="black"))

fig.update_layout(
    width=W, height=H,
    margin=dict(l=ML, r=MR, t=MT, b=MB, pad=0),
    paper_bgcolor="white", plot_bgcolor="#E5E5E5",
    font=dict(family=FONT, color="black"),
    title=dict(text=index_snp, x=0.5, xref="paper", xanchor="center",
               y=1 - 84 / H, yref="container", yanchor="middle",
               font=dict(family=FONT, size=52, color="black")),
    showlegend=False,
)
fig.update_xaxes(
    range=[232.7676, 233.3924], tickvals=x_ticks, ticktext=x_tick_labels,
    showgrid=True, gridcolor="white", gridwidth=4, zeroline=False, showline=False,
    ticks="outside", ticklen=15, tickwidth=2, tickcolor="#7F7F7F",
    tickfont=dict(family=FONT, size=35, color="#7F7F7F"), ticklabelstandoff=-9,
    minor=dict(tickvals=x_minor, showgrid=True, gridcolor="#F2F2F2", gridwidth=2, ticks=""),
    title=dict(text="position (Mb)", font=dict(family=FONT, size=44, color="black"), standoff=11),
)
fig.update_yaxes(
    range=[-10.1, 211.6], tickvals=y_ticks,
    showgrid=True, gridcolor="white", gridwidth=4, zeroline=False, showline=False,
    ticks="outside", ticklen=15, tickwidth=2, tickcolor="#7F7F7F",
    tickfont=dict(family=FONT, size=35, color="#7F7F7F"),
    minor=dict(tickvals=y_minor, showgrid=True, gridcolor="#F2F2F2", gridwidth=2, ticks=""),
    title=dict(text="-log<sub>10</sub>(p)", font=dict(family=FONT, size=44, color="black"), standoff=14),
)

fig.write_html("out.html", config={"displayModeBar": False},
               post_script="document.body.style.margin='0px';")
